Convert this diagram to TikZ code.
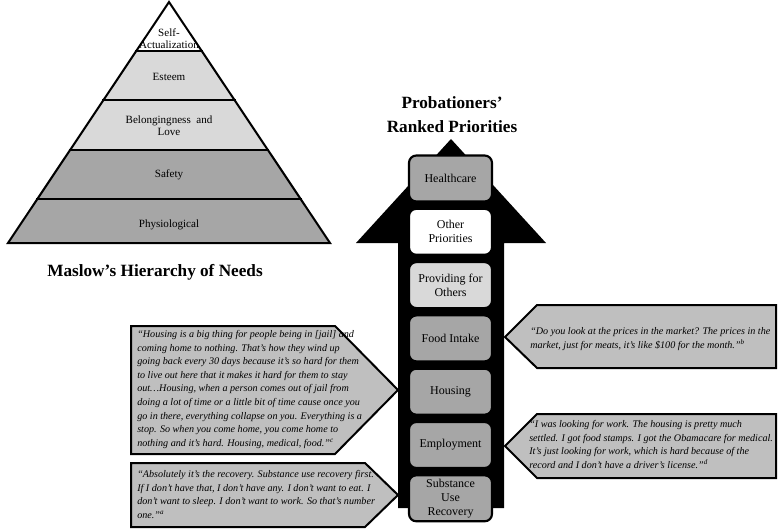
\documentclass[tikz,border=0pt]{standalone}
\usepackage{fontspec}
\setmainfont{Liberation Serif}
\begin{document}
\begin{tikzpicture}[x=0.75pt,y=-0.75pt]
\definecolor{midg}{HTML}{A6A6A6}
\definecolor{lightg}{HTML}{D9D9D9}
\definecolor{callg}{HTML}{BFBFBF}
\tikzset{
  layer/.style={draw=black,line width=1.5pt,line join=miter},
  pyrlabel/.style={font=\fontsize{8.3}{9.2}\selectfont,align=center,inner sep=0pt},
  prio/.style={draw=black,line width=1.6pt,rounded corners=5.5pt,minimum width=62.25pt,minimum height=34.5pt,inner sep=0pt,align=center,font=\fontsize{9}{10.4}\selectfont},
  callout/.style={draw=black,fill=callg,line width=1.5pt,line join=miter},
  quote/.style={font=\fontsize{7.6}{10.2}\selectfont\itshape,align=left,inner sep=0pt,anchor=west},
  title/.style={font=\fontsize{12.9}{18}\selectfont\bfseries,align=center,inner sep=0pt}
}
\useasboundingbox (0,0) rectangle (778,531);
% ---------- Pyramid ----------
% apex (169,2), base y=243, half-width slope 0.668
\fill[white] (169,2) -- (203.1,51) -- (134.9,51) -- cycle;
\fill[lightg] (134.9,51) -- (203.1,51) -- (235.8,100) -- (102.2,100) -- cycle;
\fill[lightg] (102.2,100) -- (235.8,100) -- (269.2,150) -- (68.8,150) -- cycle;
\fill[midg] (68.8,150) -- (269.2,150) -- (302,199) -- (36,199) -- cycle;
\fill[midg] (36,199) -- (302,199) -- (330,243) -- (8,243) -- cycle;
\draw[layer] (169,2) -- (330,243) -- (8,243) -- cycle;
\draw[layer] (134.9,51) -- (203.1,51);
\draw[layer] (102.2,100) -- (235.8,100);
\draw[layer] (68.8,150) -- (269.2,150);
\draw[layer] (36,199) -- (302,199);
\node[pyrlabel] (selfact) at (169,38.5) {Self-\\Actualization};
\node[pyrlabel] (esteem) at (169,77) {Esteem};
\node[pyrlabel] (belong) at (169,126) {Belongingness~~and\\Love};
\node[pyrlabel] (safety) at (169,175) {Safety};
\node[pyrlabel] (physio) at (169,225) {Physiological};
\node[title] (maslow) at (155,272) {Maslow’s~Hierarchy~of~Needs};
% ---------- Arrow ----------
\node[title] (probtitle) at (452,115) {Probationers’\\Ranked~Priorities};
\fill[black] (451,139) -- (546,243) -- (504,243) -- (504,508) -- (398,508) -- (398,243) -- (356,243) -- cycle;
\node[prio,fill=midg] (health) at (450.5,178.5) {Healthcare};
\node[prio,fill=white] (other) at (450.5,231.8) {Other\\Priorities};
\node[prio,fill=lightg] (provide) at (450.5,285.1) {Providing for\\Others};
\node[prio,fill=midg] (food) at (450.5,338.4) {Food Intake};
\node[prio,fill=midg] (housing) at (450.5,391.7) {Housing};
\node[prio,fill=midg] (employ) at (450.5,445) {Employment};
\node[prio,fill=midg,font=\fontsize{9}{10.4}\selectfont] (subst) at (450.5,498.3) {Substance\\Use\\Recovery};
% ---------- Callouts ----------
\draw[callout] (131,326) -- (335,326) -- (398,390) -- (335,454) -- (131,454) -- cycle;
\node[quote] (qhousing) at (137,389.5) {“Housing is a big thing for people being in [jail] and\\
coming home to nothing. That’s how they wind up\\
going back every 30 days because it’s so hard for them\\
to live out here that it makes it hard for them to stay\\
out…Housing, when a person comes out of jail from\\
doing a lot of time or a little bit of time cause once you\\
go in there, everything collapse on you. Everything is a\\
stop. So when you come home, you come home to\\
nothing and it’s hard. Housing, medical, food.”\textsuperscript{c}};
\draw[callout] (131,463) -- (365,463) -- (398,495) -- (365,527) -- (131,527) -- cycle;
\node[quote] (qrecovery) at (137,494.5) {“Absolutely it’s the recovery. Substance use recovery first.\\
If I don’t have that, I don’t have any. I don’t want to eat. I\\
don’t want to sleep. I don’t want to work. So that’s number\\
one.”\textsuperscript{a}};
\draw[callout] (776,305) -- (537,305) -- (505,337) -- (537,368) -- (776,368) -- cycle;
\node[quote] (qfood) at (530,339) {“Do you look at the prices in the market? The prices in the\\
market, just for meats, it’s like \$100 for the month.”\textsuperscript{b}};
\draw[callout] (776,414) -- (537,414) -- (505,446) -- (537,478) -- (776,478) -- cycle;
\node[quote] (qemploy) at (529,444.5) {“I was looking for work. The housing is pretty much\\
settled. I got food stamps. I got the Obamacare for medical.\\
It’s just looking for work, which is hard because of the\\
record and I don’t have a driver’s license.”\textsuperscript{d}};
\end{tikzpicture}
\end{document}
